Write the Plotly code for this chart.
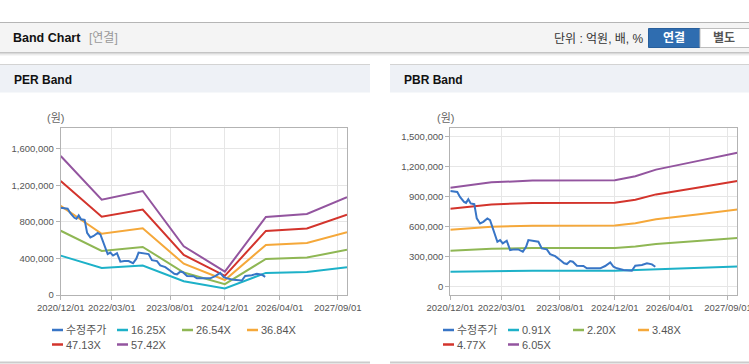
import plotly.graph_objects as go

W, H = 749, 364

# ---------------- data ----------------
price_dates = ["2020-12-01", "2021-02-01", "2021-02-25", "2021-04-02", "2021-04-20", "2021-05-10",
               "2021-05-31", "2021-07-02", "2021-07-24", "2021-08-22", "2021-09-20", "2021-10-26",
               "2021-11-19", "2021-12-13", "2022-01-02", "2022-01-23", "2022-02-16", "2022-03-12",
               "2022-04-16", "2022-05-16", "2022-06-20", "2022-07-28", "2022-09-06", "2022-10-05",
               "2022-10-25", "2022-12-09", "2023-01-22", "2023-02-21", "2023-04-07", "2023-05-06",
               "2023-06-20", "2023-08-03", "2023-09-08", "2023-10-02", "2023-10-31", "2023-11-24",
               "2023-12-30", "2024-02-26", "2024-03-27", "2024-05-25", "2024-07-24", "2024-09-06",
               "2024-10-21", "2024-11-19", "2024-12-19", "2025-02-16", "2025-05-01", "2025-05-31",
               "2025-07-29", "2025-09-12", "2025-10-26", "2025-11-25"]
price_values = [955000, 945000, 896000, 846000, 836000, 873000,
                830000, 823000, 681000, 631000, 647000, 681000,
                664000, 581000, 498000, 448000, 465000, 432000,
                458000, 365000, 372000, 372000, 348000, 398000,
                465000, 458000, 448000, 382000, 372000, 325000,
                305000, 266000, 233000, 226000, 256000, 249000,
                209000, 206000, 183000, 183000, 183000, 206000,
                243000, 199000, 183000, 166000, 159000, 209000,
                216000, 233000, 223000, 199000]

per_dates = ["2020-12-01", "2021-12-01", "2022-12-01", "2023-12-01", "2024-12-01",
             "2025-12-01", "2026-12-01", "2027-11-23"]
per_names = ["16.25X", "26.54X", "36.84X", "47.13X", "57.42X"]
per_1625 = [431110, 295750, 322560, 151130, 72310, 242130, 251060, 303060]
per_2654 = [704110, 483030, 526820, 246820, 118100, 395450, 410040, 494970]
per_3684 = [977370, 670490, 731270, 342610, 163940, 548920, 569180, 687070]
per_4713 = [1250360, 857770, 935530, 438310, 209730, 702240, 728160, 878970]
per_5742 = [1523350, 1045040, 1139790, 534010, 255520, 855560, 887140, 1070880]

pbr_dates = ["2020-12-01", "2021-07-01", "2021-12-01", "2022-12-01", "2024-12-01",
             "2025-06-01", "2025-12-01", "2026-12-01", "2027-11-23"]
pbr_names = ["0.91X", "2.20X", "3.48X", "4.77X", "6.05X"]
pbr_091 = [148330, 152880, 156520, 159250, 159710, 165620, 175630, 188370, 201110]
pbr_220 = [358600, 369600, 378400, 385000, 386100, 400400, 424600, 455400, 486200]
pbr_348 = [567240, 584640, 598560, 609000, 610740, 633360, 671640, 720360, 769080]
pbr_477 = [777510, 801360, 820440, 834750, 837140, 868140, 920610, 987390, 1054170]
pbr_605 = [986150, 1016400, 1040600, 1058750, 1061780, 1101100, 1167650, 1252350, 1337050]

price_name = "수정주가"
x_ticks = ["2020-12-01", "2022-03-01", "2023-08-01", "2024-12-01", "2026-04-01", "2027-09-01"]
x_tick_text = ["2020/12/01", "2022/03/01", "2023/08/01", "2024/12/01", "2026/04/01", "2027/09/01"]
per_yticks = [0, 400000, 800000, 1200000, 1600000]
pbr_yticks = [0, 300000, 600000, 900000, 1200000, 1500000]

# ---------------- style ----------------
C_PRICE = "#3875c6"
BAND_COLORS = ["#1db1c8", "#8fb754", "#f5a83a", "#d3342c", "#93559f"]
TICKFONT = dict(family="Liberation Sans, Arial, sans-serif", size=9.5, color="#555555")
KFONT = "Liberation Sans, Arial, Noto Sans CJK KR, sans-serif"


def px(x):
    return x / W


def py(y):
    return 1 - y / H


fig = go.Figure()

per_series = [per_1625, per_2654, per_3684, per_4713, per_5742]
pbr_series = [pbr_091, pbr_220, pbr_348, pbr_477, pbr_605]

for name, vals, col in zip(per_names, per_series, BAND_COLORS):
    fig.add_trace(go.Scatter(x=per_dates, y=vals, name=name, mode="lines",
                             line=dict(color=col, width=2), xaxis="x", yaxis="y",
                             showlegend=False))
fig.add_trace(go.Scatter(x=price_dates, y=price_values, name=price_name, mode="lines",
                         line=dict(color=C_PRICE, width=2), xaxis="x", yaxis="y",
                         showlegend=False))

for name, vals, col in zip(pbr_names, pbr_series, BAND_COLORS):
    fig.add_trace(go.Scatter(x=pbr_dates, y=vals, name=name, mode="lines",
                             line=dict(color=col, width=2), xaxis="x2", yaxis="y2",
                             showlegend=False))
fig.add_trace(go.Scatter(x=price_dates, y=price_values, name=price_name, mode="lines",
                         line=dict(color=C_PRICE, width=2), xaxis="x2", yaxis="y2",
                         showlegend=False))

axis_common = dict(showline=True, linecolor="#b3b3b3", linewidth=1, mirror=True,
                   showgrid=True, gridcolor="#e6e6e6", gridwidth=1, zeroline=False,
                   ticks="outside", ticklen=4, tickcolor="#b3b3b3", tickfont=TICKFONT,
                   automargin=False)

x_range = ["2020-12-01", "2027-11-23"]
y_dom = [py(295), py(128)]

fig.update_layout(
    width=W, height=H, autosize=False,
    margin=dict(l=0, r=0, t=0, b=0, pad=0),
    paper_bgcolor="white", plot_bgcolor="white",
    xaxis=dict(domain=[px(60.7), px(347)], range=x_range, tickvals=x_ticks,
               ticktext=x_tick_text, tickangle=0, anchor="y", ticklabeloverflow="allow",
               **axis_common),
    yaxis=dict(domain=y_dom, range=[0, 1830000], tickvals=per_yticks,
               tickformat=",d", anchor="x", **axis_common),
    xaxis2=dict(domain=[px(450.3), px(737.3)], range=x_range, tickvals=x_ticks,
                ticktext=x_tick_text, tickangle=0, anchor="y2", ticklabeloverflow="allow",
                **axis_common),
    yaxis2=dict(domain=y_dom, range=[-83000, 1583000], tickvals=pbr_yticks,
                tickformat=",d", anchor="x2", **axis_common),
)

shapes = []
annots = []

# top header
shapes.append(dict(type="rect", xref="paper", yref="paper", x0=0, x1=1, y0=py(52.5), y1=py(22.5),
                   fillcolor="#f4f4f4", line=dict(width=0), layer="below"))
shapes.append(dict(type="line", xref="paper", yref="paper", x0=0, x1=1, y0=py(22.5), y1=py(22.5),
                   line=dict(color="#b5b5b5", width=1)))
for yy, cc in [(52.5, "#c4c4c4"), (53.5, "#dadada"), (54.5, "#ececec"), (55.5, "#f6f6f6")]:
    shapes.append(dict(type="line", xref="paper", yref="paper", x0=0, x1=1, y0=py(yy), y1=py(yy),
                       line=dict(color=cc, width=1)))

# buttons
shapes.append(dict(type="rect", xref="paper", yref="paper", x0=px(648.5), x1=px(700),
                   y0=py(47.5), y1=py(28.5), fillcolor="#2f6db0", line=dict(color="#285f9c", width=1)))
shapes.append(dict(type="rect", xref="paper", yref="paper", x0=px(700), x1=px(752),
                   y0=py(47.5), y1=py(28.5), fillcolor="#ffffff", line=dict(color="#bdbdbd", width=1)))

# panel headers and bottoms
for x0, x1 in [(0, 370), (390, 749)]:
    shapes.append(dict(type="rect", xref="paper", yref="paper", x0=px(x0), x1=px(x1),
                       y0=py(92.5), y1=py(64.5), fillcolor="#eef1f6", line=dict(width=0), layer="below"))
    shapes.append(dict(type="line", xref="paper", yref="paper", x0=px(x0), x1=px(x1),
                       y0=py(64.5), y1=py(64.5), line=dict(color="#d3d3d3", width=1)))
    shapes.append(dict(type="line", xref="paper", yref="paper", x0=px(x0), x1=px(x1),
                       y0=py(362.5), y1=py(362.5), line=dict(color="#cccccc", width=2)))

annots.append(dict(text="<b>Band Chart</b>", x=px(11), y=py(38.5), xref="paper", yref="paper",
                   xanchor="left", yanchor="middle", showarrow=False,
                   font=dict(family=KFONT, size=12.5, color="#111111")))
annots.append(dict(text="[연결]", x=px(87), y=py(38.5), xref="paper", yref="paper",
                   xanchor="left", yanchor="middle", showarrow=False,
                   font=dict(family=KFONT, size=12, color="#999999")))
annots.append(dict(text="단위 : 억원, 배, %", x=px(552), y=py(39), xref="paper", yref="paper",
                   xanchor="left", yanchor="middle", showarrow=False,
                   font=dict(family=KFONT, size=12, color="#333333")))
annots.append(dict(text="<b>연결</b>", x=px(674), y=py(38.5), xref="paper", yref="paper",
                   xanchor="center", yanchor="middle", showarrow=False,
                   font=dict(family=KFONT, size=12, color="#ffffff")))
annots.append(dict(text="<b>별도</b>", x=px(724), y=py(38.5), xref="paper", yref="paper",
                   xanchor="center", yanchor="middle", showarrow=False,
                   font=dict(family=KFONT, size=12, color="#555555")))
for txt, x in [("<b>PER Band</b>", 12), ("<b>PBR Band</b>", 402)]:
    annots.append(dict(text=txt, x=px(x), y=py(80), xref="paper", yref="paper",
                       xanchor="left", yanchor="middle", showarrow=False,
                       font=dict(family=KFONT, size=12, color="#111111")))
for x in [55, 445]:
    annots.append(dict(text="(원)", x=px(x), y=py(118), xref="paper", yref="paper",
                       xanchor="center", yanchor="middle", showarrow=False,
                       font=dict(family=KFONT, size=11, color="#666666")))

# manual legends
def add_legend(x_start, names, colors):
    for i, (nm, col) in enumerate(zip(names, colors)):
        cx = x_start + (i % 4) * 65
        cy = 330 + (i // 4) * 14.5
        shapes.append(dict(type="line", xref="paper", yref="paper", x0=px(cx), x1=px(cx + 11),
                           y0=py(cy), y1=py(cy), line=dict(color=col, width=2.5)))
        annots.append(dict(text=nm, x=px(cx + 13), y=py(cy), xref="paper", yref="paper",
                           xanchor="left", yanchor="middle", showarrow=False, borderpad=0,
                           font=dict(family=KFONT, size=11, color="#555555")))


add_legend(52, [price_name] + per_names, [C_PRICE] + BAND_COLORS)
add_legend(443, [price_name] + pbr_names, [C_PRICE] + BAND_COLORS)

fig.update_layout(shapes=shapes, annotations=annots)

fig.write_html(
    "out.html",
    config=dict(displayModeBar=False, responsive=False),
    post_script="document.body.style.margin='0';document.body.style.overflow='hidden';",
)
